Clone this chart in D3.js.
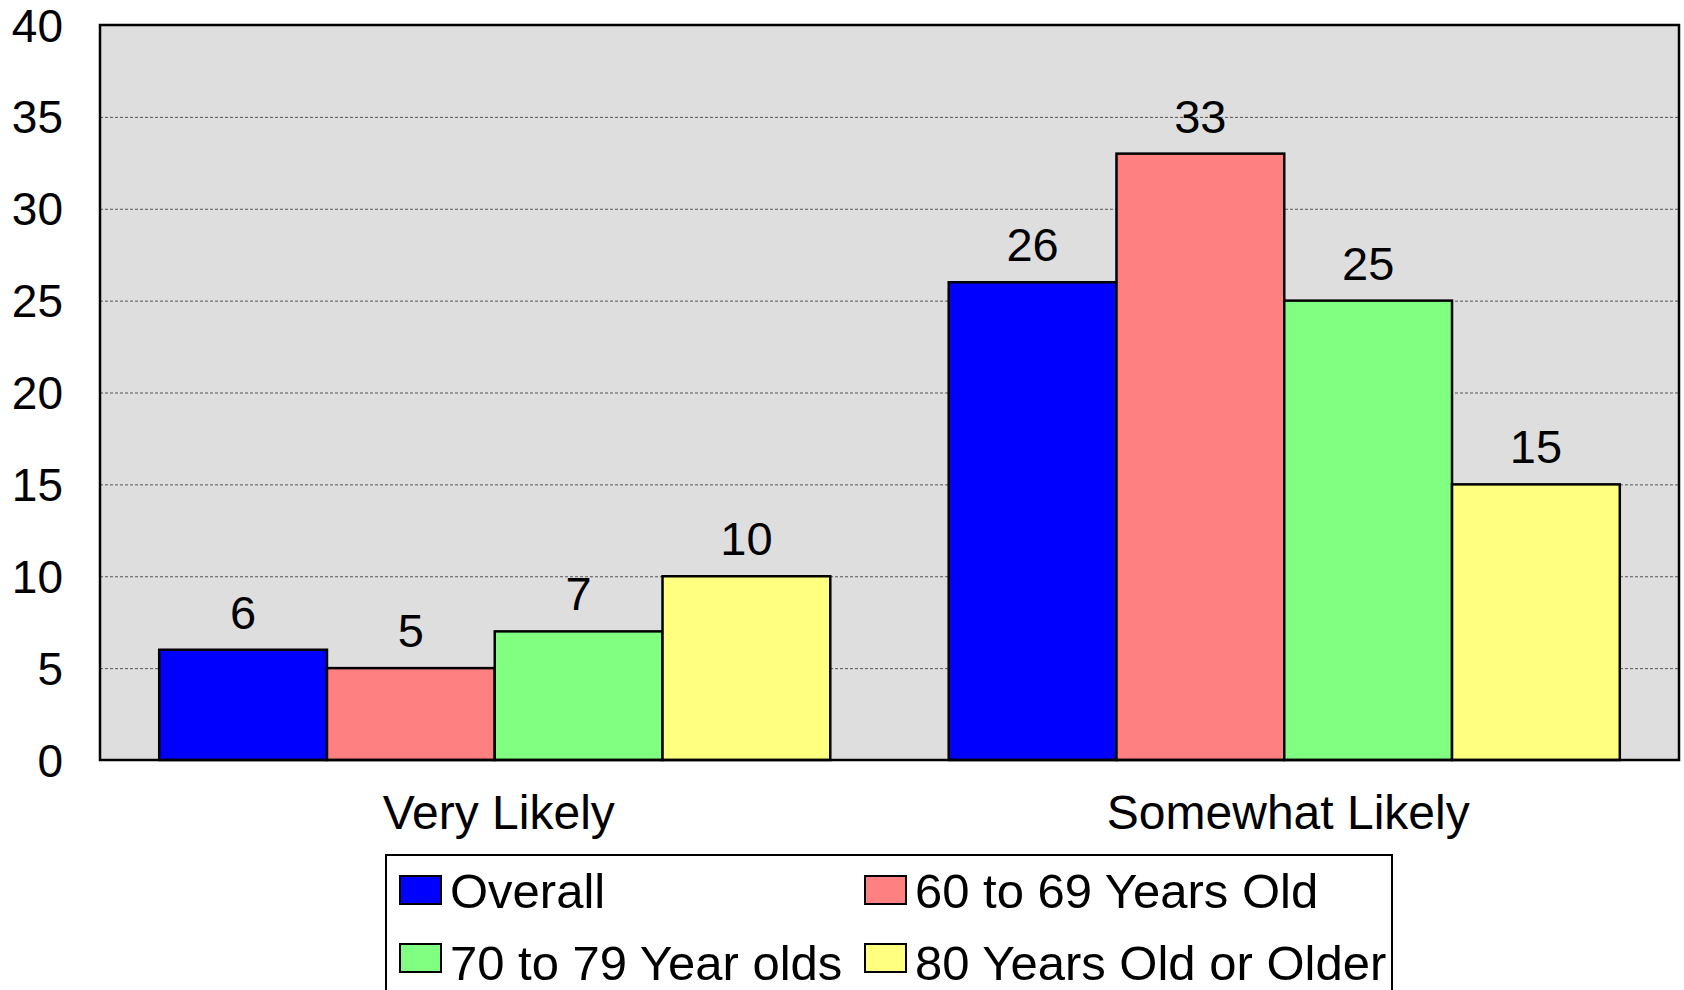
<!DOCTYPE html>
<html>
<head>
<meta charset="utf-8">
<script src="https://cdn.jsdelivr.net/npm/d3@7"></script>
<style>
  html, body { margin: 0; padding: 0; background: #ffffff; }
  svg { display: block; }
  text { font-family: "Liberation Sans", Arial, sans-serif; fill: #000; }
</style>
</head>
<body>
<svg id="chart" width="1684" height="990"></svg>
<script>
const categories = ["Very Likely", "Somewhat Likely"];
const seriesNames = ["Overall", "60 to 69 Years Old", "70 to 79 Year olds", "80 Years Old or Older"];
const seriesColors = ["#0000ff", "#ff8080", "#80ff80", "#ffff80"];
const overall = [6, 26];
const age60to69 = [5, 33];
const age70to79 = [7, 25];
const age80plus = [10, 15];
const yTicks = [0, 5, 10, 15, 20, 25, 30, 35, 40];

const seriesValues = [overall, age60to69, age70to79, age80plus];

const svg = d3.select("#chart");
const plot = { left: 100, top: 25, right: 1679, bottom: 760 };

const x0 = d3.scaleBand().domain(categories).range([plot.left, plot.right])
  .paddingInner(0.15).paddingOuter(0.075);
const x1 = d3.scaleBand().domain(seriesNames).range([0, x0.bandwidth()]).padding(0);
const y = d3.scaleLinear().domain([0, 40]).range([plot.bottom, plot.top]);

// plot background
svg.append("rect")
  .attr("x", plot.left).attr("y", plot.top)
  .attr("width", plot.right - plot.left).attr("height", plot.bottom - plot.top)
  .attr("fill", "#dedede");

// gridlines
const grid = svg.append("g")
  .attr("transform", `translate(${plot.left},0)`)
  .call(d3.axisLeft(y).tickValues(yTicks.filter(t => t > 0 && t < 40))
    .tickSize(-(plot.right - plot.left)).tickFormat(""));
grid.select(".domain").remove();
grid.selectAll(".tick line")
  .attr("stroke", "#555").attr("stroke-width", 1).attr("stroke-dasharray", "3,2");

// y axis labels
const yAxis = svg.append("g")
  .attr("transform", `translate(63,0)`)
  .call(d3.axisLeft(y).tickValues(yTicks).tickSize(0).tickPadding(0));
yAxis.select(".domain").remove();
yAxis.selectAll(".tick text")
  .style("font-family", '"Liberation Sans", Arial, sans-serif')
  .style("font-size", "46px").attr("fill", "#000").attr("dy", "0.35em");

// bars
const groups = svg.append("g").selectAll("g")
  .data(categories).join("g")
  .attr("transform", c => `translate(${x0(c)},0)`);

groups.selectAll("rect")
  .data((c, ci) => seriesNames.map((s, si) => ({ s, si, v: seriesValues[si][ci] })))
  .join("rect")
  .attr("x", d => x1(d.s))
  .attr("y", d => y(d.v))
  .attr("width", x1.bandwidth())
  .attr("height", d => y(0) - y(d.v))
  .attr("fill", d => seriesColors[d.si])
  .attr("stroke", "#000").attr("stroke-width", 2.5);

groups.selectAll("text.val")
  .data((c, ci) => seriesNames.map((s, si) => ({ s, si, v: seriesValues[si][ci] })))
  .join("text").attr("class", "val")
  .attr("x", d => x1(d.s) + x1.bandwidth() / 2)
  .attr("y", d => y(d.v) - 21)
  .attr("text-anchor", "middle")
  .style("font-size", "47px")
  .text(d => d.v);

// plot border
svg.append("rect")
  .attr("x", plot.left).attr("y", plot.top)
  .attr("width", plot.right - plot.left).attr("height", plot.bottom - plot.top)
  .attr("fill", "none").attr("stroke", "#000").attr("stroke-width", 2.5);

// category labels
svg.append("g").selectAll("text")
  .data(categories).join("text")
  .attr("x", c => x0(c) + x0.bandwidth() / 2 + 4)
  .attr("y", 829)
  .attr("text-anchor", "middle")
  .style("font-size", "48px")
  .text(c => c);

// legend
const legend = svg.append("g");
legend.append("rect")
  .attr("x", 386).attr("y", 855).attr("width", 1006).attr("height", 160)
  .attr("fill", "#fff").attr("stroke", "#000").attr("stroke-width", 2);

const legPos = [
  { sx: 400, tx: 450, sy: 876, ty: 908 },
  { sx: 865, tx: 915, sy: 876, ty: 908 },
  { sx: 400, tx: 450, sy: 944, ty: 980 },
  { sx: 865, tx: 915, sy: 944, ty: 980 }
];
const items = legend.selectAll("g.item").data(seriesNames).join("g").attr("class", "item");
items.append("rect")
  .attr("x", (d, i) => legPos[i].sx).attr("y", (d, i) => legPos[i].sy)
  .attr("width", 41).attr("height", 28)
  .attr("fill", (d, i) => seriesColors[i])
  .attr("stroke", "#000").attr("stroke-width", 2);
items.append("text")
  .attr("x", (d, i) => legPos[i].tx).attr("y", (d, i) => legPos[i].ty)
  .style("font-size", "49px")
  .attr("textLength", null)
  .text(d => d);
</script>
</body>
</html>
